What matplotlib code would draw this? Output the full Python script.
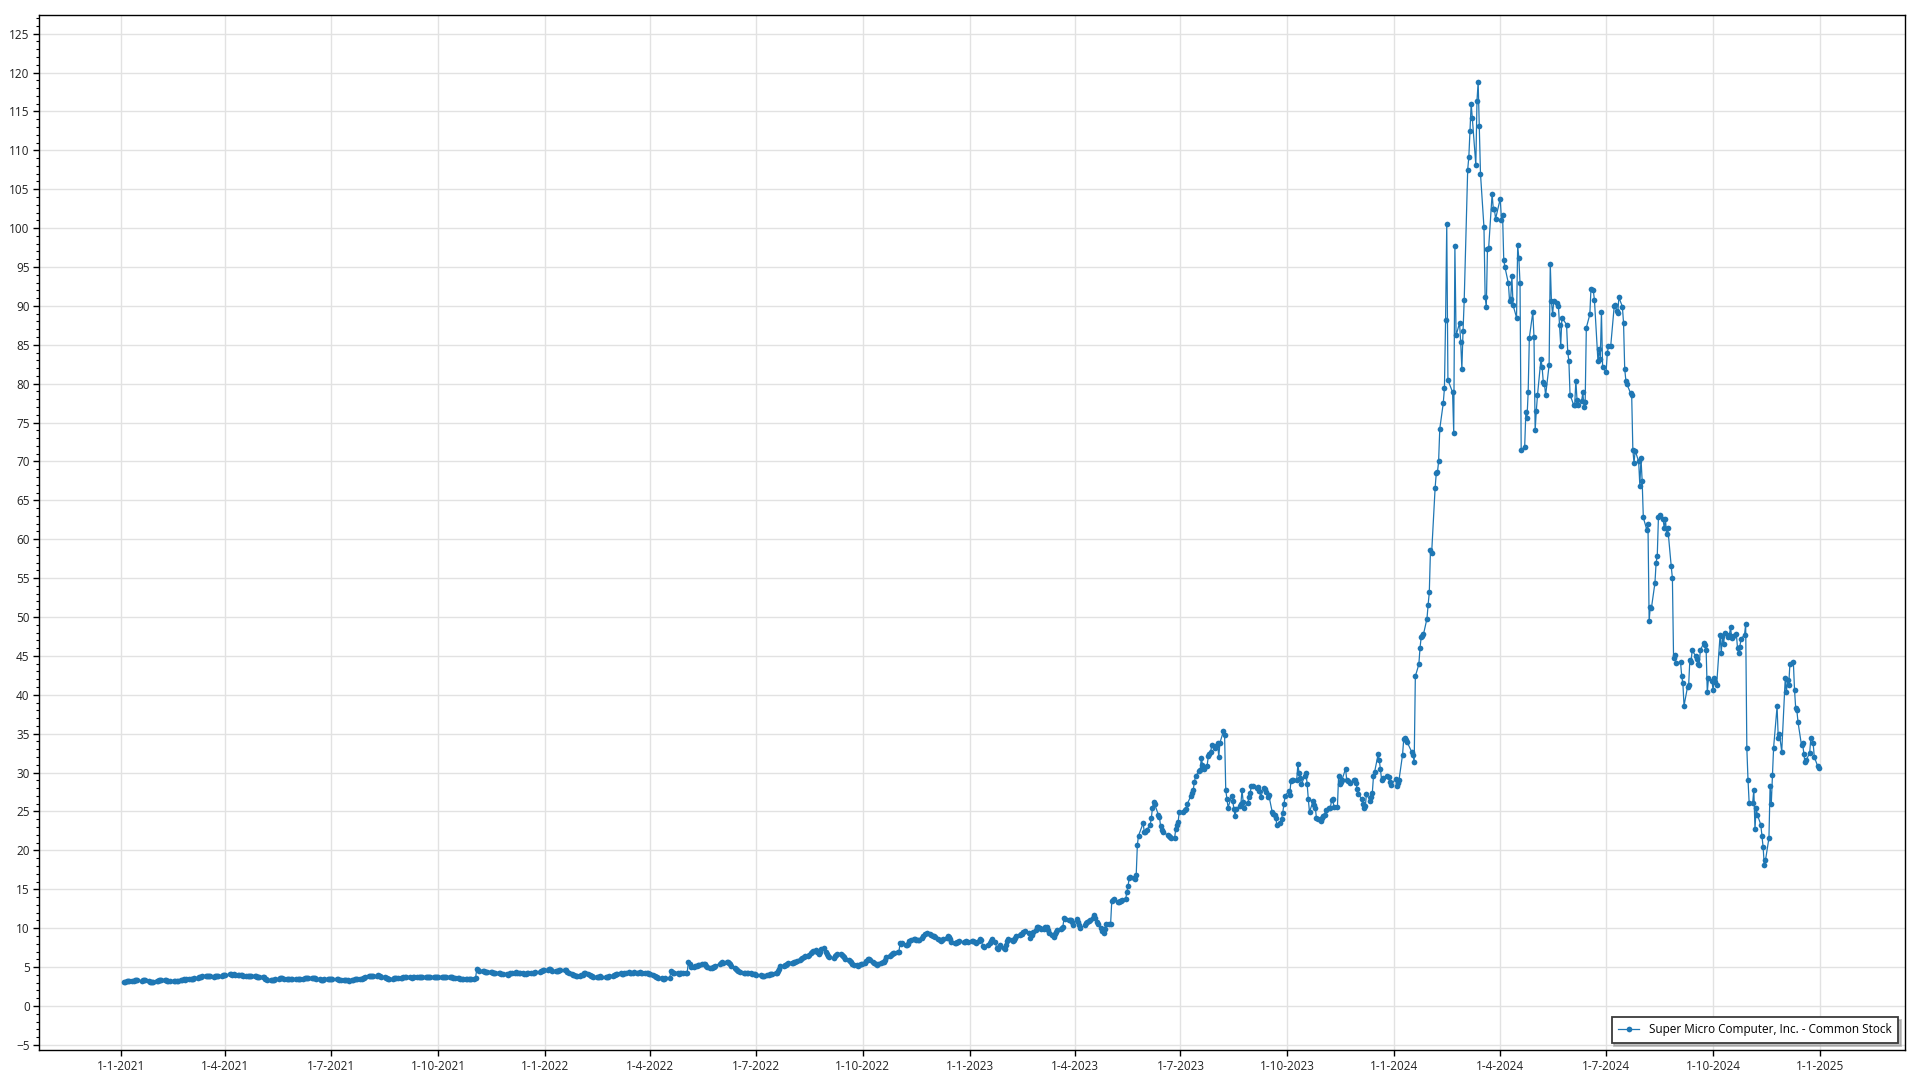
import matplotlib
matplotlib.use('Agg')
import matplotlib.pyplot as plt
import matplotlib.dates as mdates
from matplotlib.ticker import MultipleLocator, FuncFormatter
import pandas as pd

series_name = 'Super Micro Computer, Inc. - Common Stock'

# days the market was closed (weekends are skipped anyway)
market_holidays = [
    '2021-01-01', '2021-01-18', '2021-02-15', '2021-04-02', '2021-05-31', '2021-07-05',
    '2021-09-06', '2021-11-25', '2021-12-24',
    '2022-01-17', '2022-02-21', '2022-04-15', '2022-05-30', '2022-06-20', '2022-07-04',
    '2022-09-05', '2022-11-24', '2022-12-26',
    '2023-01-02', '2023-01-16', '2023-02-20', '2023-04-07', '2023-05-29', '2023-06-19',
    '2023-07-04', '2023-09-04', '2023-11-23', '2023-12-25',
    '2024-01-01', '2024-01-15', '2024-02-19', '2024-03-29', '2024-05-27', '2024-06-19',
    '2024-07-04', '2024-09-02', '2024-11-28', '2024-12-25',
]

# daily closes, one list per month
close_2021 = [
    [3.10, 3.14, 3.17, 3.20, 3.18, 3.22, 3.25, 3.31, 3.36, 3.30, 3.27, 3.30, 3.34, 3.28, 3.20, 3.12, 3.08, 3.05, 3.10],
    [3.15, 3.22, 3.28, 3.33, 3.36, 3.38, 3.33, 3.26, 3.20, 3.15, 3.18, 3.22, 3.19, 3.24, 3.30, 3.36, 3.42, 3.38, 3.45],
    [3.45, 3.48, 3.42, 3.50, 3.55, 3.60, 3.66, 3.70, 3.74, 3.79, 3.85, 3.88, 3.90, 3.86, 3.82, 3.78, 3.80, 3.84, 3.88, 3.86, 3.90, 3.95, 3.98],
    [4.02, 4.05, 4.06, 4.04, 4.08, 4.03, 4.00, 3.96, 3.92, 3.94, 3.90, 3.86, 3.82, 3.80, 3.84, 3.88, 3.86, 3.82, 3.78, 3.74, 3.70],
    [3.72, 3.66, 3.48, 3.42, 3.40, 3.36, 3.30, 3.34, 3.40, 3.46, 3.52, 3.56, 3.58, 3.55, 3.52, 3.50, 3.48, 3.50, 3.52, 3.50],
    [3.48, 3.46, 3.44, 3.45, 3.50, 3.55, 3.60, 3.62, 3.63, 3.61, 3.58, 3.60, 3.56, 3.50, 3.44, 3.38, 3.36, 3.40, 3.44, 3.48, 3.50, 3.51],
    [3.50, 3.48, 3.45, 3.42, 3.38, 3.36, 3.34, 3.32, 3.30, 3.28, 3.26, 3.30, 3.36, 3.42, 3.45, 3.48, 3.46, 3.50, 3.55, 3.65, 3.75],
    [3.80, 3.84, 3.88, 3.90, 3.86, 3.88, 3.92, 3.90, 3.85, 3.78, 3.70, 3.62, 3.55, 3.50, 3.48, 3.52, 3.56, 3.58, 3.60, 3.62, 3.60, 3.64],
    [3.66, 3.70, 3.72, 3.68, 3.64, 3.66, 3.70, 3.74, 3.72, 3.68, 3.66, 3.70, 3.73, 3.76, 3.72, 3.68, 3.70, 3.74, 3.72, 3.70, 3.72],
    [3.72, 3.74, 3.70, 3.68, 3.72, 3.75, 3.72, 3.70, 3.66, 3.62, 3.60, 3.58, 3.55, 3.52, 3.50, 3.48, 3.46, 3.45, 3.48, 3.46, 3.50],
    [3.52, 3.55, 4.70, 4.62, 4.55, 4.50, 4.48, 4.42, 4.40, 4.36, 4.38, 4.34, 4.30, 4.28, 4.25, 4.22, 4.18, 4.15, 4.12, 4.06, 4.02],
    [4.10, 4.18, 4.25, 4.30, 4.32, 4.28, 4.24, 4.20, 4.18, 4.14, 4.16, 4.20, 4.22, 4.26, 4.28, 4.30, 4.35, 4.42, 4.48, 4.52, 4.56, 4.60],
]

close_2022 = [
    [4.62, 4.70, 4.76, 4.65, 4.55, 4.50, 4.48, 4.55, 4.60, 4.64, 4.68, 4.62, 4.40, 4.22, 4.10, 4.02, 3.95, 3.88, 3.82, 3.86],
    [3.92, 4.02, 4.28, 4.20, 4.05, 3.95, 3.88, 3.82, 3.78, 3.74, 3.72, 3.76, 3.80, 3.78, 3.75, 3.72, 3.78, 3.84, 3.88],
    [3.95, 4.02, 4.10, 4.15, 4.18, 4.12, 4.16, 4.22, 4.28, 4.32, 4.30, 4.26, 4.30, 4.34, 4.30, 4.28, 4.32, 4.30, 4.26, 4.22, 4.18, 4.20, 4.16],
    [4.10, 3.98, 3.86, 3.75, 3.70, 3.64, 3.56, 3.52, 3.50, 3.55, 3.62, 4.55, 4.42, 4.30, 4.22, 4.18, 4.15, 4.20, 4.26, 4.22],
    [4.25, 4.30, 5.70, 5.40, 5.05, 5.00, 5.10, 5.20, 5.25, 5.30, 5.38, 5.42, 5.35, 5.20, 5.05, 4.92, 4.88, 4.95, 5.02, 5.20, 5.45],
    [5.58, 5.62, 5.55, 5.60, 5.64, 5.58, 5.40, 5.10, 4.90, 4.75, 4.60, 4.45, 4.35, 4.30, 4.25, 4.20, 4.22, 4.18, 4.12, 4.08, 4.05],
    [4.00, 3.92, 3.85, 3.82, 3.88, 3.95, 4.02, 4.08, 4.10, 4.12, 4.18, 4.30, 4.45, 4.70, 5.10, 5.15, 5.22, 5.30, 5.38, 5.48],
    [5.50, 5.56, 5.62, 5.70, 5.80, 5.90, 6.00, 6.15, 6.30, 6.40, 6.48, 6.60, 6.75, 6.90, 7.05, 7.15, 6.95, 6.70, 6.90, 7.30, 7.45, 7.00, 6.65],
    [6.45, 6.30, 6.22, 6.40, 6.60, 6.72, 6.68, 6.50, 6.40, 6.30, 6.10, 5.90, 5.72, 5.60, 5.45, 5.30, 5.22, 5.18, 5.25, 5.35, 5.42],
    [5.55, 5.80, 6.05, 6.10, 5.90, 5.70, 5.50, 5.35, 5.30, 5.40, 5.55, 5.62, 5.70, 5.90, 6.30, 6.45, 6.55, 6.70, 6.80, 6.75, 6.90],
    [6.95, 8.10, 7.95, 8.05, 7.90, 7.85, 8.00, 8.30, 8.45, 8.60, 8.55, 8.48, 8.52, 8.50, 8.70, 8.95, 9.20, 9.35, 9.30, 9.15, 9.05],
    [9.00, 8.85, 8.60, 8.45, 8.40, 8.50, 8.65, 8.80, 8.95, 8.90, 8.60, 8.20, 8.10, 8.15, 8.20, 8.25, 8.30, 8.22, 8.28, 8.32, 8.21],
]

close_2023 = [
    [8.35, 8.40, 8.20, 8.10, 8.30, 8.55, 8.45, 7.70, 7.60, 7.85, 8.10, 8.30, 8.55, 8.20, 7.40, 7.30, 7.55, 7.80, 7.50, 7.35],
    [7.90, 8.30, 8.55, 8.45, 8.35, 8.50, 8.75, 9.00, 9.10, 9.30, 9.20, 9.45, 9.60, 9.40, 8.70, 9.10, 9.55, 9.75, 10.10],
    [10.20, 10.00, 9.90, 9.95, 10.10, 10.20, 9.80, 9.40, 9.10, 8.90, 9.30, 9.55, 9.75, 9.85, 10.00, 10.20, 11.35, 11.20, 11.10, 11.00, 11.10, 10.80, 10.35],
    [11.20, 10.80, 10.40, 10.05, 10.40, 10.70, 10.85, 10.95, 11.00, 11.30, 11.65, 11.30, 10.85, 10.50, 10.00, 9.60, 9.40, 9.90, 10.60],
    [10.50, 10.55, 13.50, 13.65, 13.70, 13.40, 13.35, 13.45, 13.50, 13.60, 13.80, 14.65, 15.40, 16.50, 16.55, 16.45, 16.30, 16.80, 20.70, 21.90, 23.50, 22.30],
    [22.30, 22.60, 23.30, 24.10, 25.50, 26.20, 25.90, 24.60, 24.30, 23.10, 22.60, 22.30, 22.00, 21.90, 21.70, 21.60, 21.60, 22.70, 23.20, 23.60, 24.90],
    [24.90, 25.20, 25.35, 26.00, 27.00, 27.40, 27.70, 28.80, 29.50, 30.20, 30.30, 31.90, 31.00, 30.40, 30.90, 32.10, 32.40, 32.70, 33.50, 33.10],
    [33.40, 33.75, 32.00, 33.85, 35.30, 34.80, 27.75, 26.65, 25.50, 27.00, 26.40, 25.30, 24.40, 25.35, 25.70, 26.00, 27.75, 26.20, 25.50, 26.10, 26.90, 27.40, 28.30],
    [28.30, 28.05, 28.10, 27.60, 26.90, 28.05, 27.90, 27.50, 26.80, 27.10, 24.90, 24.70, 24.60, 24.20, 23.20, 23.55, 24.00, 24.85, 25.90, 27.00],
    [27.60, 27.10, 28.90, 29.05, 29.00, 29.05, 31.05, 30.00, 29.35, 28.50, 29.55, 29.90, 28.50, 26.55, 24.90, 26.35, 25.80, 25.50, 24.10, 24.00, 23.80, 24.10],
    [24.40, 24.60, 25.25, 25.40, 25.50, 26.50, 26.55, 25.60, 25.55, 29.50, 28.50, 28.80, 29.10, 30.50, 29.05, 28.90, 28.70, 29.10, 29.00, 28.70, 27.90],
    [27.30, 26.55, 26.00, 25.50, 25.70, 27.30, 26.35, 26.80, 27.40, 29.50, 30.10, 32.35, 31.60, 30.40, 29.05, 29.30, 29.50, 29.40, 28.80, 28.35],
]

close_2024 = [
    [29.20, 28.30, 28.60, 29.10, 32.30, 34.30, 34.40, 34.20, 33.90, 32.60, 32.30, 31.30, 42.40, 43.90, 46.00, 47.40, 47.60, 47.80, 49.80, 51.60, 53.20],
    [58.60, 58.20, 66.60, 68.50, 68.60, 70.00, 74.20, 77.50, 79.40, 88.20, 100.50, 80.50, 78.90, 73.60, 97.70, 86.20, 87.80, 85.30, 81.90, 86.80],
    [90.70, 107.50, 109.20, 112.50, 116.00, 114.10, 108.10, 116.40, 118.80, 113.10, 107.00, 100.10, 91.20, 89.80, 97.30, 97.40, 104.40, 102.50, 102.40, 101.20],
    [103.80, 101.10, 101.70, 95.90, 95.00, 92.90, 90.60, 90.90, 93.80, 90.10, 88.50, 97.80, 96.10, 92.90, 71.50, 71.90, 76.30, 75.60, 78.90, 85.90, 89.20, 86.00],
    [74.00, 76.50, 78.50, 83.20, 82.10, 80.20, 80.00, 78.50, 82.40, 95.40, 90.60, 88.90, 90.60, 90.40, 90.00, 87.50, 84.90, 88.50, 87.60, 84.10, 82.90, 78.60],
    [77.30, 77.20, 80.40, 77.90, 77.20, 77.80, 78.90, 77.00, 77.60, 87.20, 88.90, 92.20, 92.00, 90.70, 82.90, 84.40, 83.20, 89.20, 82.10],
    [81.50, 83.90, 84.80, 84.90, 90.00, 90.10, 89.40, 89.10, 91.10, 89.90, 87.80, 81.90, 80.40, 79.90, 78.80, 78.50, 71.50, 69.80, 71.40, 70.00, 66.90, 70.40],
    [67.50, 62.80, 61.20, 61.90, 49.50, 51.30, 51.20, 54.40, 57.00, 57.90, 62.90, 63.10, 62.60, 61.40, 62.60, 60.70, 61.50, 56.50, 55.00, 44.70, 45.10, 44.10],
    [44.20, 42.40, 41.50, 38.60, 41.00, 41.30, 44.50, 44.20, 45.70, 45.00, 44.60, 43.90, 43.80, 45.70, 46.70, 46.40, 45.80, 40.30, 42.10, 41.80],
    [40.60, 42.10, 41.60, 41.20, 47.70, 45.40, 47.50, 46.50, 47.90, 47.40, 47.70, 48.70, 47.30, 47.50, 47.80, 46.00, 45.40, 46.20, 47.20, 47.70, 49.10, 33.10, 29.10],
    [26.10, 26.10, 27.80, 22.70, 25.50, 24.60, 23.30, 21.80, 20.40, 18.10, 18.70, 21.60, 28.30, 25.90, 29.70, 33.20, 38.50, 34.50, 35.00, 32.70],
    [42.10, 40.30, 41.90, 41.20, 43.90, 44.20, 40.60, 38.30, 38.00, 36.50, 33.50, 33.80, 32.40, 31.30, 31.60, 32.50, 34.40, 33.80, 32.00, 30.80, 30.60],
]

y_ticks = list(range(-5, 130, 5))

# put the closes on the trading calendar
trading_days = pd.bdate_range('2021-01-01', '2024-12-31', freq='C', holidays=market_holidays)
dates, closes = [], []
for year, months in [(2021, close_2021), (2022, close_2022), (2023, close_2023), (2024, close_2024)]:
    for m, vals in enumerate(months, start=1):
        days = trading_days[(trading_days.year == year) & (trading_days.month == m)]
        n = min(len(days), len(vals))
        dates.extend(days[:n])
        closes.extend(vals[:n])
dates = pd.DatetimeIndex(dates)

plt.rcParams['font.family'] = ['Open Sans', 'DejaVu Sans']
plt.rcParams['font.size'] = 8.5

fig = plt.figure(figsize=(19.2, 10.8), dpi=100)
ax = fig.add_axes([0.0205, 0.0278, 0.9717, 0.9583])

ax.plot(dates, closes, '-o', color='#1f77b4', lw=0.9, ms=4.1, mew=0, label=series_name, zorder=3)

ax.set_xlim(pd.Timestamp('2020-10-23'), pd.Timestamp('2025-03-15'))
ax.set_ylim(-5.66, 127.4)

ax.xaxis.set_major_locator(mdates.MonthLocator(bymonth=[1, 4, 7, 10]))
ax.xaxis.set_major_formatter(FuncFormatter(
    lambda v, pos: '{d.day}-{d.month}-{d.year}'.format(d=mdates.num2date(v))))
ax.set_yticks(y_ticks)
ax.yaxis.set_minor_locator(MultipleLocator(1))

ax.tick_params(axis='both', which='major', direction='out', length=4, width=1,
               colors='black', labelcolor='#222222', labelsize=8.5, pad=3)
ax.tick_params(axis='y', which='minor', direction='out', length=2.2, width=0.8, colors='black')

ax.grid(True, which='major', color='#e2e2e2', linewidth=1)
ax.set_axisbelow(True)
for s in ax.spines.values():
    s.set_color('black')
    s.set_linewidth(1)

leg = ax.legend(loc='lower right', fancybox=False, shadow={'color': '#9a9a9a', 'alpha': 0.6},
                edgecolor='#3a3a3a', framealpha=1, borderaxespad=0.6, handlelength=1.8,
                borderpad=0.55, fontsize=8.5)
leg.get_frame().set_linewidth(1.3)

fig.savefig('out.png', dpi=100)
